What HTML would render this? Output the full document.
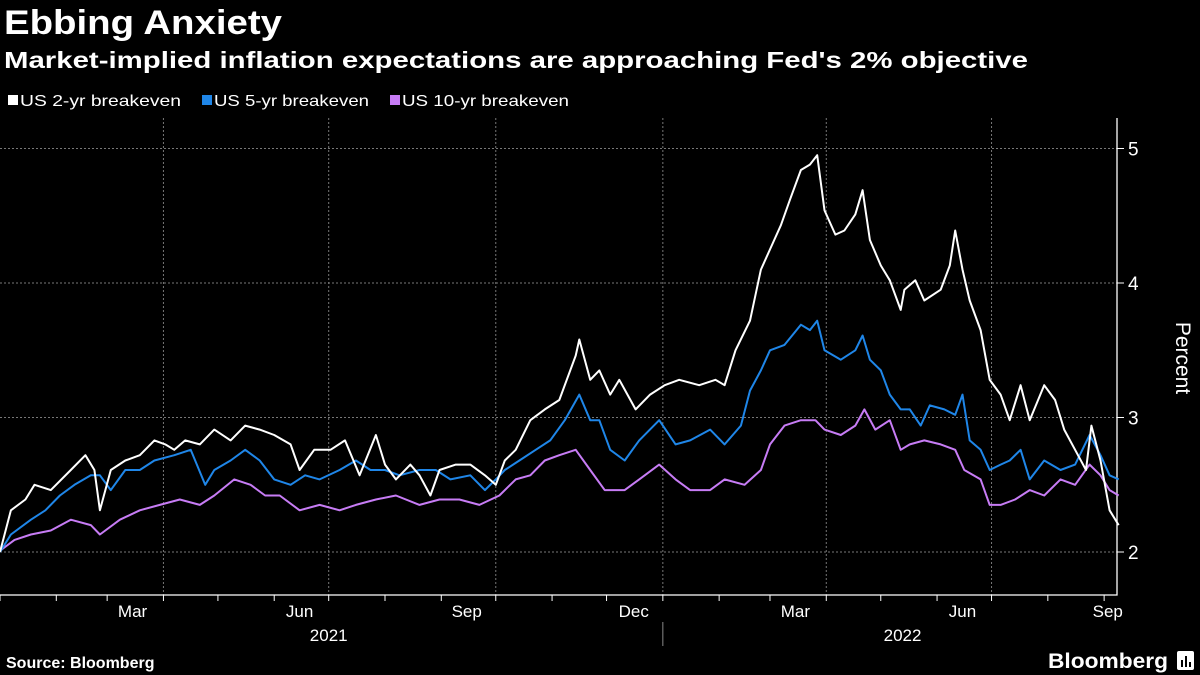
<!DOCTYPE html>
<html><head><meta charset="utf-8"><style>
html,body{margin:0;padding:0;background:#000;width:1200px;height:675px;overflow:hidden}
svg{display:block;font-family:"Liberation Sans",sans-serif}
</style></head><body>
<svg id="chart" width="1200" height="675" viewBox="0 0 1200 675">
<text x="4" y="34" fill="#fff" font-size="34" font-weight="bold" textLength="278" lengthAdjust="spacingAndGlyphs">Ebbing Anxiety</text>
<text x="4" y="68" fill="#fff" font-size="23" font-weight="bold" textLength="1024" lengthAdjust="spacingAndGlyphs">Market-implied inflation expectations are approaching Fed's 2% objective</text>
<g>
<g><rect x="8" y="95" width="10" height="10" fill="#fff"/><text x="20" y="106" fill="#fff" font-size="16" textLength="161" lengthAdjust="spacingAndGlyphs">US 2-yr breakeven</text></g>
<g><rect x="202" y="95" width="10" height="10" fill="#1f86e8"/><text x="214" y="106" fill="#fff" font-size="16" textLength="155" lengthAdjust="spacingAndGlyphs">US 5-yr breakeven</text></g>
<g><rect x="390" y="95" width="10" height="10" fill="#c77cf5"/><text x="402" y="106" fill="#fff" font-size="16" textLength="167" lengthAdjust="spacingAndGlyphs">US 10-yr breakeven</text></g>
</g>
<g id="grid"></g>
<g id="axes"></g>
<g id="series"></g>
<text transform="translate(1176,358) rotate(90)" fill="#fff" font-size="21" text-anchor="middle">Percent</text>
<text x="6" y="668" fill="#fff" font-size="16" font-weight="bold">Source: Bloomberg</text>
<text x="1048" y="668" fill="#fff" font-size="21" font-weight="bold" textLength="120" lengthAdjust="spacingAndGlyphs">Bloomberg</text>
<g><rect x="1177" y="651" width="17" height="19" rx="2" fill="#fff"/><rect x="1181" y="660" width="2" height="7" fill="#000"/><rect x="1185" y="656" width="2" height="11" fill="#000"/><rect x="1189" y="662" width="2" height="5" fill="#000"/></g>
</svg>
<script>
// days since 2021-01-01
const days2 = [0,6,14,19,28,39,47,52,55,61,69,77,85,91,96,102,110,118,127,135,143,151,160,165,173,182,190,198,207,212,218,226,231,237,242,251,259,267,273,278,284,292,300,308,317,319,325,330,336,341,350,358,366,374,385,394,399,405,413,419,424,430,435,441,446,450,454,460,465,471,475,479,485,490,496,498,504,509,518,523,526,530,534,540,545,551,556,562,567,575,581,586,592,598,601,606,611,616];
const vals2 = [2.00,2.31,2.39,2.50,2.46,2.61,2.72,2.61,2.31,2.61,2.68,2.72,2.83,2.80,2.76,2.83,2.80,2.91,2.83,2.94,2.91,2.87,2.80,2.61,2.76,2.76,2.83,2.57,2.87,2.65,2.54,2.65,2.57,2.42,2.61,2.65,2.65,2.57,2.50,2.68,2.76,2.98,3.06,3.13,3.46,3.58,3.28,3.35,3.17,3.28,3.06,3.17,3.24,3.28,3.24,3.28,3.24,3.50,3.72,4.10,4.25,4.43,4.62,4.84,4.88,4.95,4.54,4.36,4.39,4.51,4.69,4.32,4.13,4.02,3.80,3.95,4.02,3.87,3.95,4.13,4.39,4.10,3.87,3.65,3.28,3.17,2.98,3.24,2.98,3.24,3.13,2.91,2.76,2.61,2.94,2.68,2.31,2.20];
const days5 = [0,6,17,25,33,41,50,55,61,69,77,85,96,105,113,118,127,135,143,151,160,168,176,187,196,204,212,220,231,240,248,259,267,273,278,286,295,303,311,319,325,330,336,344,352,363,372,380,391,399,408,413,419,424,432,441,446,450,454,463,471,475,479,485,490,496,501,507,512,520,526,530,534,540,545,551,556,562,567,575,584,592,600,606,611,616];
const vals5 = [2.00,2.13,2.24,2.31,2.42,2.50,2.57,2.57,2.46,2.61,2.61,2.68,2.72,2.76,2.50,2.61,2.68,2.76,2.68,2.54,2.50,2.57,2.54,2.61,2.68,2.61,2.61,2.57,2.61,2.61,2.54,2.57,2.46,2.54,2.61,2.68,2.76,2.83,2.98,3.17,2.98,2.98,2.76,2.68,2.83,2.98,2.80,2.83,2.91,2.80,2.94,3.20,3.35,3.50,3.54,3.69,3.65,3.72,3.50,3.43,3.50,3.61,3.43,3.35,3.17,3.06,3.06,2.94,3.09,3.06,3.02,3.17,2.83,2.76,2.61,2.65,2.68,2.76,2.54,2.68,2.61,2.65,2.87,2.72,2.57,2.54];
const days10 = [0,8,17,28,39,50,55,66,77,88,99,110,118,129,138,146,154,165,176,187,196,207,218,231,242,253,264,275,284,292,300,308,317,325,333,344,352,363,372,380,391,399,410,419,424,432,441,449,454,463,471,476,482,490,496,501,509,518,526,531,540,545,551,559,567,575,584,592,600,606,611,616];
const vals10 = [2.01,2.09,2.13,2.16,2.24,2.20,2.13,2.24,2.31,2.35,2.39,2.35,2.42,2.54,2.50,2.42,2.42,2.31,2.35,2.31,2.35,2.39,2.42,2.35,2.39,2.39,2.35,2.42,2.54,2.57,2.68,2.72,2.76,2.61,2.46,2.46,2.54,2.65,2.54,2.46,2.46,2.54,2.50,2.61,2.80,2.94,2.98,2.98,2.91,2.87,2.94,3.06,2.91,2.98,2.76,2.80,2.83,2.80,2.76,2.61,2.54,2.35,2.35,2.39,2.46,2.42,2.54,2.50,2.65,2.57,2.46,2.42];
const yTicks = [2,3,4,5];
const monthLabels = ["Mar","Jun","Sep","Dec","Mar","Jun","Sep"];
const monthLabelDays = [73,165,257,349,438,530,610];
const gridDays = [90,181,273,365,455,546];
const yearLabels = ["2021","2022"];
const yearLabelDays = [181,497];

const NS="http://www.w3.org/2000/svg";
const X0=0,X1=1117,PX_PER_DAY=1.816;
const xS=d=>X0+d*PX_PER_DAY;
const yS=v=>552-(v-2)*134.5;
function mk(tag,attrs,parent){const e=document.createElementNS(NS,tag);for(const k in attrs)e.setAttribute(k,attrs[k]);parent.appendChild(e);return e;}
const grid=document.getElementById('grid'),axes=document.getElementById('axes'),ser=document.getElementById('series');
yTicks.forEach(t=>{
  const l=mk('line',{x1:0,x2:X1,y1:yS(t),y2:yS(t),stroke:'#777','stroke-width':1,'stroke-dasharray':'2,2'},grid);
  
  
  const tk=mk('line',{x1:X1,x2:X1+7,y1:yS(t),y2:yS(t),stroke:'#fff'},axes);
  
  
  const tx=mk('text',{x:X1+11,y:yS(t)+7,fill:'#fff','font-size':19},axes);
  tx.textContent=t;
  
  
});
gridDays.forEach(d=>{
  const l=mk('line',{x1:xS(d),x2:xS(d),y1:118,y2:595,stroke:'#777','stroke-width':1,'stroke-dasharray':'2,2'},grid);
  
  
});
for(let m=0;m<21;m++){
  const dt=new Date(Date.UTC(2021,m,1));const d=(dt-Date.UTC(2021,0,1))/864e5;
  const tk=mk('line',{x1:xS(d),x2:xS(d),y1:595,y2:601,stroke:'#fff'},axes);
  
  
}
const ax=mk('path',{d:`M0 595H${X1}V118`,fill:'none',stroke:'#fff','stroke-width':1.3},axes);


monthLabels.forEach((s,i)=>{
  const t=mk('text',{x:xS(monthLabelDays[i]),y:617,fill:'#fff','font-size':17,'text-anchor':'middle'},axes);
  t.textContent=s;
  
  
});
yearLabels.forEach((s,i)=>{
  const t=mk('text',{x:xS(yearLabelDays[i]),y:641,fill:'#fff','font-size':17,'text-anchor':'middle'},axes);
  t.textContent=s;
  
  
});
const sep=mk('line',{x1:xS(365),x2:xS(365),y1:622,y2:646,stroke:'#888'},axes);


function line(ds,vs,color,name){
  const d=ds.map((x,i)=>(i?'L':'M')+xS(x).toFixed(1)+' '+yS(vs[i]).toFixed(1)).join('');
  const p=mk('path',{d:d,fill:'none',stroke:color,'stroke-width':2,'stroke-linejoin':'round'},ser);
  
  
}
line(days10,vals10,'#c77cf5','line-10yr-breakeven');
line(days5,vals5,'#1f86e8','line-5yr-breakeven');
line(days2,vals2,'#ffffff','line-2yr-breakeven');
</script>
</body></html>
